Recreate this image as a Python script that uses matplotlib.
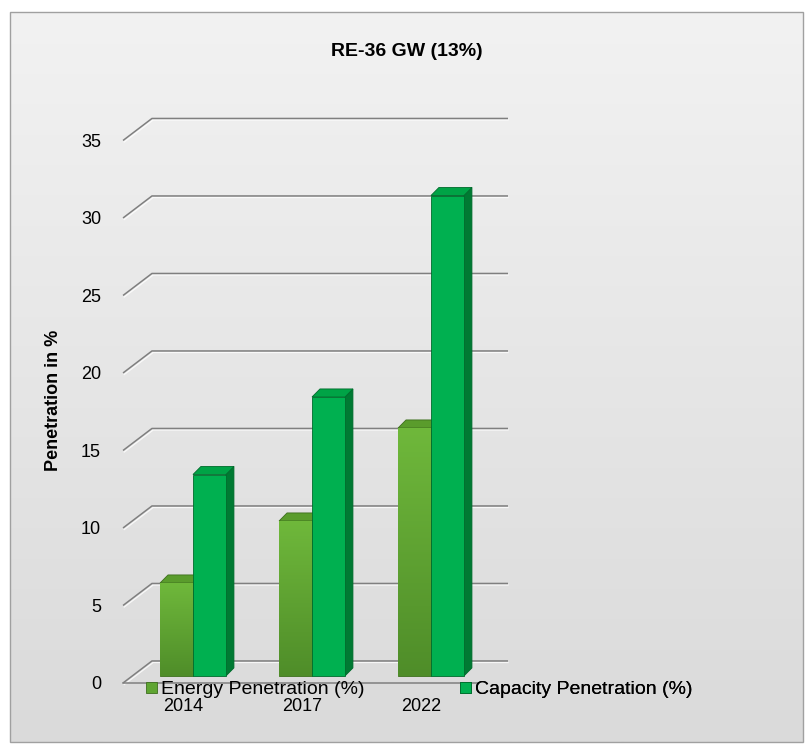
import numpy as np
import matplotlib
matplotlib.use("Agg")
import matplotlib.pyplot as plt
from matplotlib.patches import Polygon, Rectangle
from matplotlib.colors import LinearSegmentedColormap

years = ["2014", "2017", "2022"]
energy = [6, 10, 16]
capacity = [13, 18, 31]
series_names = ["Energy Penetration (%)", "Capacity Penetration (%)"]
yticks = [0, 5, 10, 15, 20, 25, 30, 35]
title = "RE-36 GW (13%)"
ylabel = "Penetration in %"

plt.rcParams["font.family"] = ["Liberation Sans", "DejaVu Sans"]

W, H = 805, 754
fig = plt.figure(figsize=(W / 100, H / 100), dpi=100)

# background panel with soft vertical gradient
bg = fig.add_axes([0, 0, 1, 1])
bg.axis("off")
grad = np.linspace(0, 1, 256).reshape(-1, 1)
bg_cmap = LinearSegmentedColormap.from_list("bg", ["#f2f2f2", "#dadada"])
bg.imshow(grad, cmap=bg_cmap, extent=[10, 803, 742, 12], aspect="auto")
bg.add_patch(Rectangle((10, 12), 793, 730, fill=False, ec="#a0a0a0", lw=1))
bg.set_xlim(0, W)
bg.set_ylim(H, 0)

# main axes (pixel box of plot area)
L, R, B, T = 108, 520, 695, 110
ax = fig.add_axes([L / W, 1 - B / H, (R - L) / W, (B - T) / H])
ax.patch.set_alpha(0)
px_x, px_y = 119.0, 15.5
x0pix, y0pix = 193, 676

# pseudo-3D wall geometry (data units)
back_dy, front_dy = 0.97, -0.45
back_x0, back_x1, front_x0 = -0.345, 2.647, -0.588

for v in yticks:
    ax.plot([front_x0, back_x0, back_x1], [v + front_dy, v + back_dy, v + back_dy],
            color="#7f7f7f", lw=1.1, zorder=1, solid_capstyle="butt")
    ax.plot([front_x0 + 0.01, back_x0 + 0.01, back_x1],
            [v + front_dy - 0.1, v + back_dy - 0.1, v + back_dy - 0.1],
            color="white", lw=0.9, zorder=0.9, alpha=0.8)
ax.plot([front_x0, back_x1 - (back_x0 - front_x0)], [front_dy, front_dy],
        color="#7f7f7f", lw=1.1, zorder=1)

# bars
w, dx, dy = 0.277, 0.067, 0.52
en_cmap = LinearSegmentedColormap.from_list("en", ["#6fb83b", "#4f8d29"])
styles = [
    dict(front="#5fa532", side="#3f7420", top="#5a9c2c", edge="#3d6e1d", cmap=en_cmap),
    dict(front="#00b050", side="#007a33", top="#00a346", edge="#006b2c", cmap=None),
]
for i in range(len(years)):
    for k, vals in enumerate([energy, capacity]):
        st = styles[k]
        v = vals[i]
        xl = i - w + k * w
        z = 3 + k
        side = Polygon([(xl + w, 0), (xl + w + dx, dy), (xl + w + dx, v + dy), (xl + w, v)],
                       closed=True, fc=st["side"], ec=st["edge"], lw=0.6, zorder=z)
        top = Polygon([(xl, v), (xl + dx, v + dy), (xl + w + dx, v + dy), (xl + w, v)],
                      closed=True, fc=st["top"], ec=st["edge"], lw=0.6, zorder=z)
        ax.add_patch(side)
        ax.add_patch(top)
        bar = ax.bar(xl, v, width=w, align="edge", color=st["front"],
                     edgecolor=st["edge"], linewidth=0.6, zorder=z + 0.1)[0]
        if st["cmap"] is not None:
            im = ax.imshow(np.linspace(0, 1, 128).reshape(-1, 1), cmap=st["cmap"],
                           extent=[xl, xl + w, 0, v], origin="upper", aspect="auto",
                           zorder=z + 0.2)
            im.set_clip_path(bar)

ax.set_xlim((L - x0pix) / px_x, (R - x0pix) / px_x)
ax.set_ylim((y0pix - B) / px_y, (y0pix - T) / px_y)

ax.set_yticks([v + front_dy for v in yticks], [str(v) for v in yticks])
ax.set_xticks([i - 0.08 for i in range(len(years))], years)
ax.tick_params(axis="y", length=0, pad=5, labelsize=13)
ax.tick_params(axis="x", length=0, pad=2, labelsize=13)
for s in ax.spines.values():
    s.set_visible(False)

ax.set_ylabel(ylabel, fontsize=13, fontweight="bold")
ax.yaxis.set_label_coords(-0.112, 0.504)

# legend: two entries placed like the original
handles = [Rectangle((0, 0), 1, 1, fc="#5fa532", ec="#3d6e1d", lw=0.6),
           Rectangle((0, 0), 1, 1, fc="#00b050", ec="#006b2c", lw=0.6)]
anchors = [146, 460]
for h, name, xa in zip(handles, series_names, anchors):
    leg = ax.legend([h], [name], loc="center left", bbox_to_anchor=(xa / W, 1 - 690 / H),
                    bbox_transform=fig.transFigure, frameon=False, fontsize=14,
                    handlelength=0.55, handleheight=0.55, handletextpad=0.2,
                    borderpad=0, borderaxespad=0)
    ax.add_artist(leg)

fig.text(407 / W, 1 - 52 / H, title, ha="center", va="center", fontsize=14,
         fontweight="bold")

fig.savefig("out.png", dpi=100)
